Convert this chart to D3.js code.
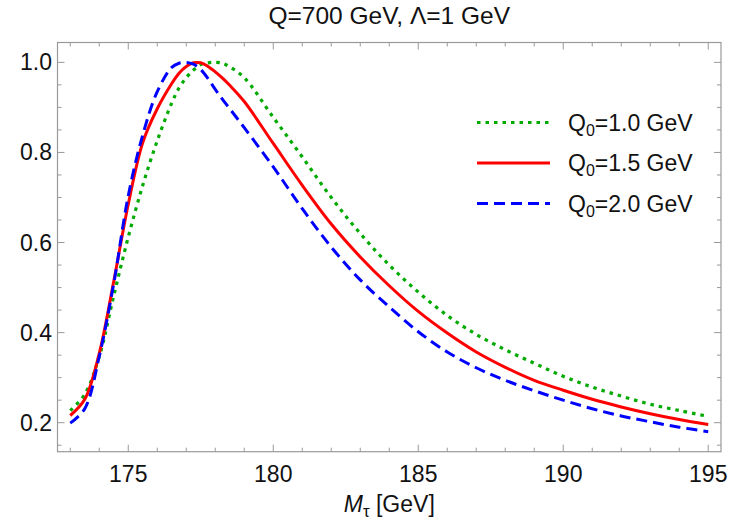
<!DOCTYPE html>
<html><head><meta charset="utf-8">
<script src="https://cdn.jsdelivr.net/npm/d3@7"></script>
<style>body{margin:0;background:#fff}svg{display:block;font-family:"Liberation Sans",Arial,Helvetica,sans-serif}</style>
</head><body>
<svg id="c" width="741" height="526"></svg>
<script>
const title = "Q=700 GeV, \u039B=1 GeV";
const mtau = [173,173.5,174,174.5,175,175.5,176,176.5,176.75,177,177.25,177.5,177.75,178,178.25,178.5,179,180,181,182,183,184,185,186,187,188,189,190,191,192,193,194,195];
const q10 = [0.227,0.263,0.347,0.482,0.612,0.727,0.826,0.910,0.943,0.966,0.983,0.995,0.999,1.0,0.998,0.990,0.966,0.878,0.790,0.700,0.620,0.550,0.490,0.438,0.396,0.362,0.332,0.303,0.279,0.259,0.241,0.227,0.214];
const q15 = [0.216,0.252,0.354,0.514,0.685,0.822,0.897,0.953,0.976,0.991,0.999,0.999,0.991,0.979,0.965,0.949,0.913,0.820,0.727,0.641,0.568,0.504,0.447,0.399,0.357,0.323,0.294,0.272,0.252,0.235,0.220,0.207,0.196];
const q20 = [0.199,0.231,0.347,0.509,0.704,0.839,0.935,0.989,0.998,1.0,0.996,0.984,0.964,0.940,0.918,0.897,0.855,0.768,0.675,0.590,0.517,0.457,0.402,0.357,0.322,0.294,0.271,0.250,0.231,0.215,0.202,0.190,0.180];
const seriesNames = ["1.0","1.5","2.0"];
const xTicks = [175,180,185,190,195];
const yTicks = [0.2,0.4,0.6,0.8,1.0];

const svg = d3.select("#c");
const L=57.5, R=721, T=42.5, B=451.7;
const x = d3.scaleLinear().domain([172.56,195.44]).range([L,R]);
const y = d3.scaleLinear().domain([0.1356,1.0441]).range([B,T]);
const frameCol = "#999";

// ticks
const xMinor = d3.range(173,196,1);
const yMinor = d3.range(0.15,1.0401,0.05).map(v=>+v.toFixed(2));
const g = svg.append("g").attr("stroke",frameCol).attr("stroke-width",1);
xMinor.forEach(v=>{
  const len = xTicks.includes(v)?7:4;
  g.append("line").attr("x1",x(v)).attr("x2",x(v)).attr("y1",B).attr("y2",B-len);
  g.append("line").attr("x1",x(v)).attr("x2",x(v)).attr("y1",T).attr("y2",T+len);
});
yMinor.forEach(v=>{
  const major = yTicks.some(t=>Math.abs(t-v)<1e-6);
  const len = major?7:4;
  g.append("line").attr("y1",y(v)).attr("y2",y(v)).attr("x1",L).attr("x2",L+len);
  g.append("line").attr("y1",y(v)).attr("y2",y(v)).attr("x1",R).attr("x2",R-len);
});
svg.append("rect").attr("x",L).attr("y",T).attr("width",R-L).attr("height",B-T)
  .attr("fill","none").attr("stroke",frameCol).attr("stroke-width",1.2);

// tick labels
svg.append("g").selectAll("text").data(xTicks).join("text")
  .attr("x",d=>x(d)).attr("y",481.5).attr("text-anchor","middle")
  .attr("font-size",23).attr("fill","#111").text(d=>d);
svg.append("g").selectAll("text").data(yTicks).join("text")
  .attr("x",52).attr("y",d=>y(d)+8).attr("text-anchor","end")
  .attr("font-size",23).attr("fill","#111").text(d=>d.toFixed(1));

// title
svg.append("text").attr("x",(L+R)/2).attr("y",24).attr("text-anchor","middle")
  .attr("font-size",24.5).attr("fill","#111").text(title);

// x label
const xl = svg.append("text").attr("x",(L+R)/2).attr("y",512).attr("text-anchor","middle")
  .attr("font-size",23).attr("fill","#111");
xl.append("tspan").attr("font-style","italic").text("M");
xl.append("tspan").attr("font-size",17).attr("dy",5).text("\u03C4");
xl.append("tspan").attr("dy",-5).text(" [GeV]");

// curves
const styles = [
  {vals:q10, color:"#00aa00", dash:"3.5,5", w:3.2},
  {vals:q15, color:"#ff0000", dash:null, w:3},
  {vals:q20, color:"#0000ff", dash:"11,6", w:3}
];
const line = d3.line().x((d,i)=>x(mtau[i])).y(d=>y(d)).curve(d3.curveCatmullRom.alpha(0.5));
svg.append("clipPath").attr("id","clp").append("rect").attr("x",L).attr("y",T).attr("width",R-L).attr("height",B-T);
styles.forEach(s=>{
  svg.append("path").attr("d",line(s.vals)).attr("fill","none").attr("stroke",s.color)
    .attr("stroke-width",s.w).attr("stroke-dasharray",s.dash).attr("clip-path","url(#clp)");
});

// legend
const legY = [122.5,163,203.5];
styles.forEach((s,i)=>{
  svg.append("line").attr("x1",477).attr("x2",550).attr("y1",legY[i]).attr("y2",legY[i])
    .attr("stroke",s.color).attr("stroke-width",s.w).attr("stroke-dasharray",s.dash);
  const t = svg.append("text").attr("x",568).attr("y",legY[i]+8).attr("font-size",23).attr("fill","#111");
  t.append("tspan").text("Q");
  t.append("tspan").attr("font-size",16).attr("dy",5).text("0");
  t.append("tspan").attr("dy",-5).text("="+seriesNames[i]+" GeV");
});
</script>
</body></html>
